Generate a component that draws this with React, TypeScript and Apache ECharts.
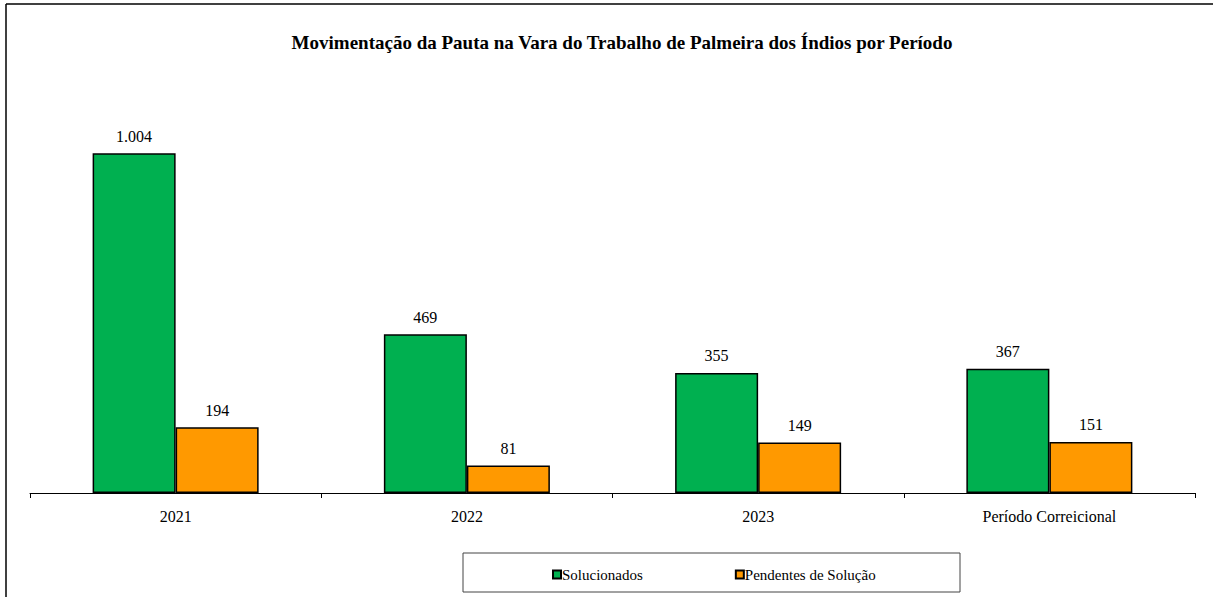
import React, { useEffect, useRef } from "react";
import * as echarts from "echarts";

const categories = ["2021", "2022", "2023", "Período Correicional"];
const solucionados = [1004, 469, 355, 367];
const pendentes = [194, 81, 149, 151];
const seriesNames = ["Solucionados", "Pendentes de Solução"];
const titleText = "Movimentação da Pauta na Vara do Trabalho de Palmeira dos Índios por Período";

const FONT = "'Liberation Serif', 'Times New Roman', serif";

const fmt = (v: number) => v.toLocaleString("pt-BR");

export default function App() {
  const ref = useRef<HTMLDivElement>(null);
  useEffect(() => {
    document.body.style.margin = "0";
    const chart = echarts.init(ref.current!, undefined, { renderer: "svg" });
    chart.setOption({
      animation: false,
      backgroundColor: "#ffffff",
      title: {
        text: titleText,
        left: 617,
        textAlign: "center",
        top: 28,
        textStyle: { fontFamily: FONT, fontWeight: "bold", fontSize: 19, color: "#000" },
      },
      grid: { left: 30, right: 18, top: 87, bottom: 104 },
      legend: {
        top: 562,
        left: 547,
        itemGap: 92,
        itemWidth: 8,
        itemHeight: 8,
        icon: "rect",
        textStyle: { fontFamily: FONT, fontSize: 15, color: "#000", padding: [0, 0, 0, -4] },
        data: seriesNames,
      },
      xAxis: {
        type: "category",
        data: categories,
        axisLine: { lineStyle: { color: "#000", width: 1 } },
        axisTick: { show: true, alignWithLabel: false, length: 5, lineStyle: { color: "#000" } },
        axisLabel: { fontFamily: FONT, fontSize: 16, color: "#000", margin: 15 },
      },
      yAxis: {
        type: "value",
        min: 0,
        max: 1200,
        show: false,
        splitLine: { show: false },
      },
      series: [
        {
          name: seriesNames[0],
          type: "bar",
          data: solucionados,
          barGap: "0%",
          barCategoryGap: "43%",
          itemStyle: { color: "#00B050", borderColor: "#000", borderWidth: 1.5 },
          label: {
            show: true,
            position: "top",
            distance: 9,
            fontFamily: FONT,
            fontSize: 16,
            color: "#000",
            formatter: (p: any) => fmt(p.value),
          },
        },
        {
          name: seriesNames[1],
          type: "bar",
          data: pendentes,
          itemStyle: { color: "#FF9900", borderColor: "#000", borderWidth: 1.5 },
          label: {
            show: true,
            position: "top",
            distance: 9,
            fontFamily: FONT,
            fontSize: 16,
            color: "#000",
            formatter: (p: any) => fmt(p.value),
          },
        },
      ],
      graphic: [
        {
          type: "line",
          shape: { x1: 6, y1: 4, x2: 1213, y2: 4 },
          style: { stroke: "#000", lineWidth: 1.5 },
        },
        {
          type: "line",
          shape: { x1: 6, y1: 4, x2: 6, y2: 597 },
          style: { stroke: "#000", lineWidth: 1.5 },
        },
        {
          type: "rect",
          shape: { x: 463, y: 553, width: 497, height: 39 },
          style: { fill: "none", stroke: "#444", lineWidth: 1 },
          z: -1,
        },
      ],
    });
    return () => chart.dispose();
  }, []);
  return <div ref={ref} style={{ width: 1213, height: 597 }} />;
}
